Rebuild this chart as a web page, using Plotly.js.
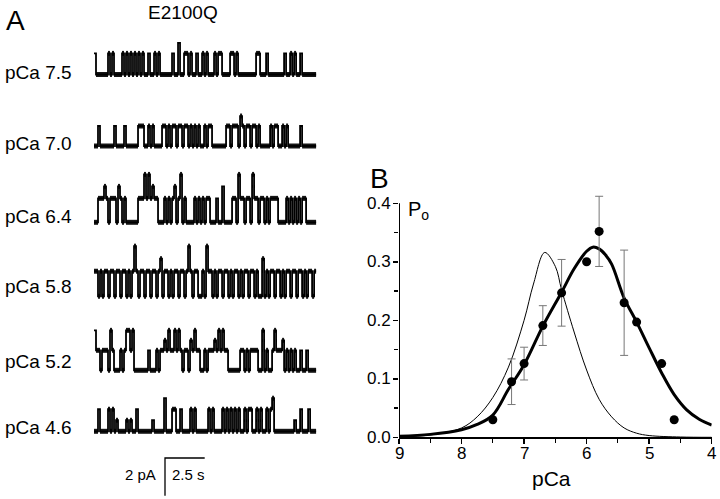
<!DOCTYPE html>
<html><head><meta charset="utf-8">
<script src="https://cdn.plot.ly/plotly-3.0.1.min.js"></script>
<style>html,body{margin:0;padding:0;background:#fff}#chart{width:720px;height:499px}</style>
</head><body><div id="chart"></div>
<script>
// ---------- Panel A: single-channel recordings (levels read per 0.126 s bin) ----------
const conditions = ['pCa 7.5','pCa 7.0','pCa 6.4','pCa 5.8','pCa 5.2','pCa 4.6'];
const binSeconds = 0.126;
// state code per bin: 0 closed, h half, 1 open, 2 tall spike, 3 double opening
const states75 = "1000000101 0000101010 1010100100 1010000001 0020011010 0100101000 1011000011 0100000000 0110001000 0000010010 10010000000";
const states70 = "0010000000 1000010000 0011100101 0000110101 1011011010 1010010110 0000001101 1102101101 1010000010 1100101000 00010000000";
const states64 = "0011121011 1021010000 0011131312 1100010101 2013010000 1010101100 0100200001 1031101103 1101101011 1100001010 10101100000";
const states58 = "1101011011 0110110101 3101101101 1012011010 1101101310 1100103110 1011011010 1101011011 0100201011 0110101101 10110101101";
const states52 = "3110111031 0001013313 0000000100 0101121311 3131011021 3110010111 2131311000 0001101011 1100301001 3111201010 10010010000";
const states46 = "0010000101 0h0000h0h0 010000000h 0000020001 1001000010 1000000101 0000101010 1010010110 0101001012 0000000000 h0010001000";
const unitCurrentPA = [1.12, 1.06, 1.27, 1.33, 1.06, 1.17];
const scaleBarPA = 2;
const scaleBarSec = 2.5;

// ---------- Panel B: Po vs pCa ----------
const pCaMeasured = [7.5, 7.2, 7.0, 6.7, 6.4, 6.0, 5.8, 5.4, 5.2, 4.8, 4.6];
const PoMeasured  = [0.030, 0.095, 0.126, 0.191, 0.247, 0.300, 0.352, 0.230, 0.197, 0.126, 0.030];
const PoSEM       = [0, 0.039, 0.028, 0.034, 0.057, 0, 0.060, 0.090, 0, 0, 0];
const pCaFitE2100Q = [9.0, 8.5, 8.0, 7.75, 7.5, 7.25, 7.0, 6.7, 6.4, 6.2, 6.0, 5.9, 5.8, 5.7, 5.6, 5.4, 5.2, 5.0, 4.8, 4.6, 4.4, 4.2, 4.0];
const PoFitE2100Q  = [0.002, 0.005, 0.013, 0.022, 0.038, 0.082, 0.124, 0.190, 0.248, 0.288, 0.318, 0.325, 0.322, 0.312, 0.296, 0.238, 0.197, 0.153, 0.110, 0.073, 0.047, 0.031, 0.021];
const pCaFitWT = [9.0, 8.5, 8.0, 7.75, 7.5, 7.25, 7.0, 6.85, 6.67, 6.5, 6.4, 6.2, 6.0, 5.8, 5.6, 5.4, 5.2, 5.0, 4.5, 4.0];
const PoFitWT  = [0.001, 0.004, 0.016, 0.035, 0.068, 0.120, 0.200, 0.262, 0.316, 0.292, 0.252, 0.180, 0.115, 0.065, 0.035, 0.016, 0.007, 0.003, 0.0005, 0.0];
const pCaTicks = [9, 8, 7, 6, 5, 4];
const PoTicks = [0, 0.1, 0.2, 0.3, 0.4];

// ---------- layout constants (positions only) ----------
const W = 720, H = 499;
const FONT = 'Liberation Sans, Arial, sans-serif';
const pxPerSec = 15.88, pxPerPA = 18.85, traceStartPx = 94;
const baselinePx = [74.5, 146, 222.3, 296.3, 370.3, 431.3];
const labelPx = [72.7, 143.3, 216.7, 286.7, 361.7, 427.3];
const panelAWidthPx = 331;
const levelMap = {'0':0, 'h':0.5, '1':1, '2':1.5, '3':2};
const axX0 = 399, axX1 = 711.7, axY0 = 437.3, axYtop = 203.3, yTopVal = 0.42;
const pxPerPo = (axY0 - axYtop) / 0.4;

const stateStrings = [states75, states70, states64, states58, states52, states46];
const traces = [];
const annotations = [];

stateStrings.forEach((s, k) => {
  const codes = s.replace(/\s+/g, '').split('');
  const off = (H - baselinePx[k]) / pxPerPA;
  const amp = unitCurrentPA[k];
  const lv = codes.map(c => off + levelMap[c] * amp);
  const x = [], y = [];
  lv.forEach((v, i) => { x.push(i * binSeconds); y.push(v); });
  x.push(codes.length * binSeconds); y.push(lv[lv.length - 1]);
  const runs = [];
  let i = 0;
  while (i < codes.length) {
    let j = i;
    while (j + 1 < codes.length && codes[j + 1] === codes[i]) j++;
    runs.push([i, j]);
    i = j + 1;
  }
  const bx = [], by = [];
  runs.forEach((r, n) => {
    const len = r[1] - r[0] + 1;
    const prevLen = n > 0 ? runs[n - 1][1] - runs[n - 1][0] + 1 : 99;
    const nextLen = n < runs.length - 1 ? runs[n + 1][1] - runs[n + 1][0] + 1 : 99;
    const inFlicker = prevLen === 1 || nextLen === 1;
    if (codes[r[0]] === '0' || len >= 2 || inFlicker) {
      bx.push(r[0] * binSeconds, (r[1] + 1) * binSeconds, null);
      by.push(lv[r[0]], lv[r[0]], null);
    }
  });
  traces.push({x: bx, y: by, xaxis: 'x', yaxis: 'y', mode: 'lines', type: 'scatter',
    line: {color: '#161616', width: 5}, hoverinfo: 'skip', showlegend: false});
  traces.push({x: x, y: y, xaxis: 'x', yaxis: 'y', mode: 'lines', type: 'scatter',
    line: {color: '#000', width: 1.8, shape: 'hv'}, hoverinfo: 'skip', showlegend: false});
  annotations.push({text: conditions[k], xref: 'paper', yref: 'paper', x: 3 / W, y: 1 - labelPx[k] / H,
    xanchor: 'left', yanchor: 'middle', showarrow: false, font: {family: FONT, size: 19, color: '#000'}});
});

// scale bar
const sbX = (165 - traceStartPx) / pxPerSec;
const sbY0 = (H - 495.7) / pxPerPA;
traces.push({x: [sbX, sbX, sbX + scaleBarSec], y: [sbY0, sbY0 + scaleBarPA, sbY0 + scaleBarPA],
  xaxis: 'x', yaxis: 'y', mode: 'lines', type: 'scatter', line: {color: '#000', width: 1.3},
  hoverinfo: 'skip', showlegend: false});
annotations.push({text: scaleBarPA + ' pA', xref: 'paper', yref: 'paper', x: 158 / W, y: 1 - 474 / H,
  xanchor: 'right', yanchor: 'middle', showarrow: false, font: {family: FONT, size: 15, color: '#000'}});
annotations.push({text: scaleBarSec + ' s', xref: 'paper', yref: 'paper', x: 170 / W, y: 1 - 474 / H,
  xanchor: 'left', yanchor: 'middle', showarrow: false, font: {family: FONT, size: 15, color: '#000'}});
annotations.push({text: 'A', xref: 'paper', yref: 'paper', x: 15.5 / W, y: 1 - 20 / H,
  xanchor: 'center', yanchor: 'middle', showarrow: false, font: {family: FONT, size: 28, color: '#000'}});
annotations.push({text: 'E2100Q', xref: 'paper', yref: 'paper', x: 183 / W, y: 1 - 12 / H,
  xanchor: 'center', yanchor: 'middle', showarrow: false, font: {family: FONT, size: 19, color: '#000'}});
annotations.push({text: 'B', xref: 'paper', yref: 'paper', x: 379 / W, y: 1 - 178 / H,
  xanchor: 'center', yanchor: 'middle', showarrow: false, font: {family: FONT, size: 28, color: '#000'}});
annotations.push({text: 'P<sub>o</sub>', xref: 'paper', yref: 'paper', x: 406 / W, y: 1 - 210 / H,
  xanchor: 'left', yanchor: 'middle', showarrow: false, font: {family: FONT, size: 20, color: '#000'}});
// tick labels and axis title for panel B
pCaTicks.forEach(v => annotations.push({text: String(v), xref: 'x2', yref: 'paper', x: v, y: 1 - 453 / H,
  xanchor: 'center', yanchor: 'middle', showarrow: false, font: {family: FONT, size: 17, color: '#000'}}));
PoTicks.forEach(v => annotations.push({text: v.toFixed(1), xref: 'paper', yref: 'y2', x: 393.5 / W, y: v,
  xanchor: 'right', yanchor: 'middle', showarrow: false, font: {family: FONT, size: 17, color: '#000'}}));
annotations.push({text: 'pCa', xref: 'paper', yref: 'paper', x: 551 / W, y: 1 - 478 / H,
  xanchor: 'center', yanchor: 'middle', showarrow: false, font: {family: FONT, size: 21, color: '#000'}});

// Panel B traces
traces.push({x: pCaFitWT, y: PoFitWT, xaxis: 'x2', yaxis: 'y2', mode: 'lines', type: 'scatter',
  line: {color: '#000', width: 1, shape: 'spline', smoothing: 1}, hoverinfo: 'skip', showlegend: false});
traces.push({x: pCaFitE2100Q, y: PoFitE2100Q, xaxis: 'x2', yaxis: 'y2', mode: 'lines', type: 'scatter',
  line: {color: '#000', width: 3, shape: 'spline', smoothing: 1}, hoverinfo: 'skip', showlegend: false});
traces.push({x: pCaMeasured, y: PoMeasured, xaxis: 'x2', yaxis: 'y2', mode: 'markers', type: 'scatter',
  marker: {color: '#000', size: 9}, cliponaxis: false,
  error_y: {type: 'data', array: PoSEM, visible: true, color: '#777', thickness: 1, width: 4},
  showlegend: false});

const layout = {
  width: W, height: H, margin: {l: 0, r: 0, t: 0, b: 0}, paper_bgcolor: '#fff', plot_bgcolor: 'rgba(0,0,0,0)',
  showlegend: false, font: {family: FONT, color: '#000'},
  xaxis: {domain: [0, panelAWidthPx / W], range: [-traceStartPx / pxPerSec, (panelAWidthPx - traceStartPx) / pxPerSec],
    visible: false, fixedrange: true},
  yaxis: {domain: [0, 1], range: [0, H / pxPerPA], visible: false, fixedrange: true},
  xaxis2: {domain: [axX0 / W, axX1 / W], range: [9, 4], anchor: 'y2', showline: true, linewidth: 2, linecolor: '#000',
    ticks: 'outside', ticklen: 5, tickwidth: 1.5, tickcolor: '#000', tickvals: pCaTicks, showticklabels: false,
    minor: {dtick: 0.5, ticks: 'outside', ticklen: 4, tickwidth: 1.2, tickcolor: '#000'},
    showgrid: false, zeroline: false},
  yaxis2: {domain: [(H - axY0) / H, (H - (axY0 - yTopVal * pxPerPo)) / H], range: [0, yTopVal], anchor: 'x2',
    showline: false, ticks: 'outside', ticklen: 5, tickwidth: 1.5, tickcolor: '#000',
    tickvals: PoTicks, showticklabels: false,
    minor: {tickvals: [0.05, 0.15, 0.25, 0.35], ticks: 'outside', ticklen: 4, tickwidth: 1.2, tickcolor: '#000'},
    showgrid: false, zeroline: false},
  shapes: [{type: 'line', xref: 'x2', yref: 'y2', x0: 9, x1: 9, y0: 0, y1: 0.4, line: {color: '#000', width: 2}}],
  annotations: annotations
};
Plotly.newPlot('chart', traces, layout, {displayModeBar: false, staticPlot: true});
</script></body></html>
